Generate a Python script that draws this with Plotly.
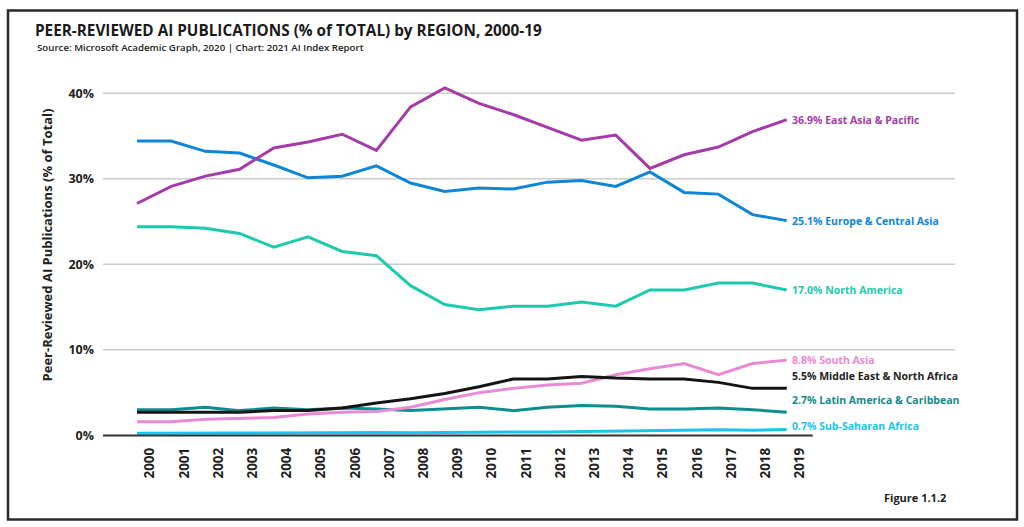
import plotly.graph_objects as go

years = list(range(2000, 2020))

east_asia = [27.1, 29.1, 30.3, 31.1, 33.6, 34.3, 35.2, 33.3, 38.4, 40.6,
             38.8, 37.5, 36.0, 34.5, 35.1, 31.2, 32.8, 33.7, 35.5, 36.9]
europe = [34.4, 34.4, 33.2, 33.0, 31.6, 30.1, 30.3, 31.5, 29.5, 28.5,
          28.9, 28.8, 29.6, 29.8, 29.1, 30.8, 28.4, 28.2, 25.8, 25.1]
north_america = [24.4, 24.4, 24.2, 23.6, 22.0, 23.2, 21.5, 21.0, 17.5, 15.3,
                 14.7, 15.1, 15.1, 15.6, 15.1, 17.0, 17.0, 17.8, 17.8, 17.0]
south_asia = [1.6, 1.6, 1.9, 2.0, 2.1, 2.5, 2.7, 2.8, 3.3, 4.2,
              5.0, 5.5, 5.9, 6.1, 7.1, 7.8, 8.4, 7.1, 8.4, 8.8]
middle_east = [2.7, 2.7, 2.7, 2.7, 2.9, 2.9, 3.2, 3.8, 4.3, 4.9,
               5.7, 6.6, 6.6, 6.9, 6.7, 6.6, 6.6, 6.2, 5.5, 5.5]
latin_america = [3.0, 3.0, 3.3, 2.9, 3.2, 3.0, 3.2, 3.1, 2.9, 3.1,
                 3.3, 2.9, 3.3, 3.5, 3.4, 3.1, 3.1, 3.2, 3.0, 2.7]
sub_saharan = [0.25, 0.25, 0.25, 0.27, 0.28, 0.3, 0.3, 0.35, 0.3, 0.35,
               0.4, 0.4, 0.4, 0.45, 0.45, 0.5, 0.6, 0.65, 0.6, 0.7]

series = [
    ("Sub-Saharan Africa", sub_saharan, "#17C5EF", "#17C5EF", 3),
    ("Latin America & Caribbean", latin_america, "#0F8C8C", "#0F8C8C", 12),
    ("South Asia", south_asia, "#E98AD4", "#E98AD4", 0),
    ("Middle East & North Africa", middle_east, "#141414", "#222222", 12),
    ("North America", north_america, "#1DCAAD", "#1DCAAD", 0),
    ("Europe & Central Asia", europe, "#0E85D6", "#0E85D6", 0),
    ("East Asia & Pacific", east_asia, "#A53BA8", "#A53BA8", 0),
]

y_ticks = [0, 10, 20, 30, 40]
y_tick_text = [f"{v}%" for v in y_ticks]

FONT = "Open Sans"

fig = go.Figure()
for name, vals, color, lab_color, ysh in series:
    fig.add_trace(go.Scatter(x=years, y=vals, mode="lines", name=name,
                             line=dict(color=color, width=3), showlegend=False))
    fig.add_annotation(x=years[-1], y=vals[-1], xref="x", yref="y",
                       text=f"{vals[-1]:.1f}% {name}", showarrow=False,
                       xanchor="left", yanchor="middle", xshift=3, yshift=ysh,
                       font=dict(family=FONT, size=10.5, color=lab_color, weight=700))

# gridlines (not at 0)
for v in y_ticks[1:]:
    fig.add_shape(type="line", xref="paper", x0=0, x1=1, yref="y", y0=v, y1=v,
                  line=dict(color="#cccccc", width=1.5), layer="below")
# baseline axis
fig.add_shape(type="line", xref="x", x0=1999.006, x1=2019.76, yref="y", y0=0, y1=0,
              line=dict(color="#333333", width=2))
# outer frame
fig.add_shape(type="rect", xref="paper", yref="paper",
              x0=-0.1115, x1=1.0728, y0=-0.2274, y1=1.1944,
              line=dict(color="#2a2a2a", width=2.5))

fig.add_annotation(text="Peer-Reviewed AI Publications (% of Total)",
                   xref="paper", yref="paper", x=-0.0657, y=0.538,
                   textangle=-90, showarrow=False, xanchor="center", yanchor="middle",
                   font=dict(family=FONT, size=13, color="#222222", weight=700))
fig.add_annotation(text="Source: Microsoft Academic Graph, 2020 | Chart: 2021 AI Index Report",
                   xref="paper", yref="paper", x=-0.0798, y=(437.6 - 47) / 358,
                   showarrow=False, xanchor="left", yanchor="middle",
                   font=dict(family=FONT, size=9.7, color="#222222", weight=600))
fig.add_annotation(text="Figure 1.1.2",
                   xref="paper", yref="paper", x=(948 - 103) / 852, y=(437.6 - 497) / 358,
                   showarrow=False, xanchor="right", yanchor="middle",
                   font=dict(family=FONT, size=11, color="#222222", weight=700))

fig.update_layout(
    width=1024, height=527,
    margin=dict(l=103, r=69, t=80, b=89),
    paper_bgcolor="white", plot_bgcolor="white",
    title=dict(text="PEER-REVIEWED AI PUBLICATIONS (% of TOTAL) by REGION, 2000-19",
               x=35 / 1024, y=1 - 31 / 527, xref="container", yref="container",
               xanchor="left", yanchor="middle",
               font=dict(family=FONT, size=15.3, color="#1a1a1a", weight=700)),
    xaxis=dict(range=[1999.006, 2023.92], tickvals=years, ticktext=[str(y) for y in years],
               tickangle=-90, showgrid=False, zeroline=False, showline=False, ticks="",
               ticklabelshift=13, ticklabelstandoff=6,
               tickfont=dict(family=FONT, size=13.5, color="#222222", weight=700)),
    yaxis=dict(range=[-0.3, 41.535], tickvals=y_ticks, ticktext=y_tick_text,
               showgrid=False, zeroline=False, showline=False, ticks="",
               ticklabelstandoff=8,
               tickfont=dict(family=FONT, size=12.5, color="#222222", weight=700)),
)

fig.write_html("out.html")
